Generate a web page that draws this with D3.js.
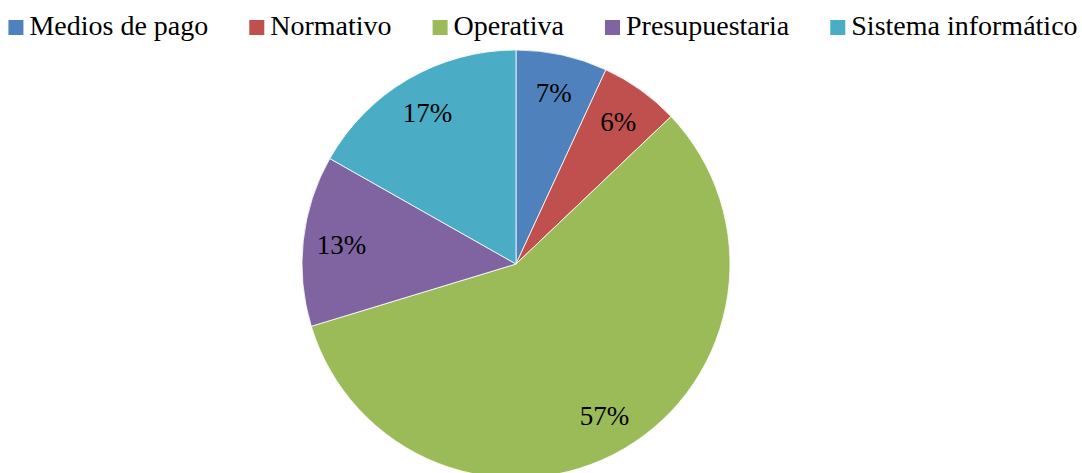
<!DOCTYPE html>
<html>
<head>
<meta charset="utf-8">
<script src="https://cdn.jsdelivr.net/npm/d3@7"></script>
<style>
  body { margin: 0; background: #fff; }
</style>
</head>
<body>
<svg class="chart"></svg>
<script>
var categories = ['Medios de pago', 'Normativo', 'Operativa', 'Presupuestaria', 'Sistema informático'];
var values = [6.9, 6.0, 57.4, 12.9, 16.8];
var colors = ['#4F81BD', '#C0504D', '#9BBB59', '#8064A2', '#4BACC6'];

var width = 1082;
var height = 473;
var cx = 516, cy = 264, radius = 214;
var font = "'Liberation Serif'";

var svg = d3.select('.chart')
  .attr('width', width)
  .attr('height', height);

var data = categories.map((c, i) => ({ name: c, value: values[i], color: colors[i] }));
var total = d3.sum(values);

var pie = d3.pie().sort(null).value(d => d.value);
var arc = d3.arc().innerRadius(0).outerRadius(radius);
var labelArc = d3.arc().innerRadius(radius * 0.82).outerRadius(radius * 0.82);

var g = svg.append('g')
  .attr('transform', 'translate(' + cx + ',' + cy + ')');

var slices = g.selectAll('.slice')
  .data(pie(data))
  .enter().append('g')
  .attr('class', 'slice');

slices.append('path')
  .attr('d', arc)
  .style('fill', d => d.data.color)
  .style('stroke', '#fff')
  .style('stroke-width', 0.8);

slices.append('text')
  .attr('transform', d => 'translate(' + labelArc.centroid(d) + ')')
  .attr('text-anchor', 'middle')
  .attr('dy', '0.35em')
  .attr('font-family', font)
  .attr('font-size', 27)
  .attr('fill', '#000')
  .text(d => Math.round(d.data.value / total * 100) + '%');

// legend, laid out from measured text widths and centred
var legend = svg.append('g').attr('class', 'legend');
var items = legend.selectAll('.item')
  .data(data)
  .enter().append('g')
  .attr('class', 'item');

items.append('rect')
  .attr('width', 15)
  .attr('height', 15)
  .attr('y', -15)
  .style('fill', d => d.color);

items.append('text')
  .attr('x', 21)
  .attr('font-family', font)
  .attr('font-size', 28)
  .attr('fill', '#000')
  .text(d => d.name);

var offsets = [];
var pos = 0;
items.each(function(d) {
  var w = 21 + this.querySelector('text').getComputedTextLength();
  offsets.push(pos);
  pos += w + 41;
});
var legendWidth = pos - 41;
var startX = (width - legendWidth) / 2 + 2;
items.attr('transform', (d, i) => 'translate(' + (startX + offsets[i]) + ',35)');
</script>
</body>
</html>
